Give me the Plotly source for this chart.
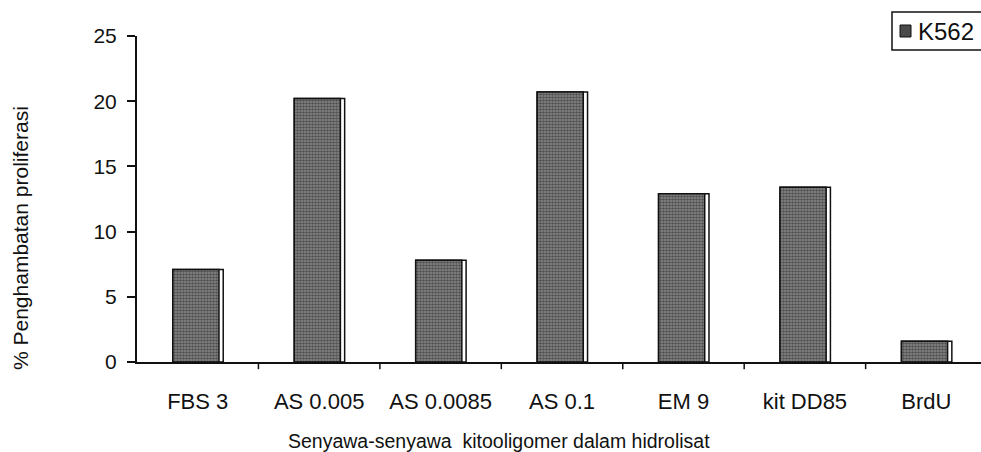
import plotly.graph_objects as go

categories = ["FBS 3", "AS 0.005", "AS 0.0085", "AS 0.1", "EM 9", "kit DD85", "BrdU"]
values = [7.1, 20.2, 7.8, 20.7, 12.9, 13.4, 1.6]
series_name = "K562"
y_ticks = [0, 5, 10, 15, 20, 25]

font = "Liberation Sans, Arial, sans-serif"

fig = go.Figure()
# outer outline (gives the white gap + right-hand black edge seen in the reference)
fig.add_trace(go.Bar(
    x=categories, y=values, width=0.415, offset=-0.205,
    marker=dict(color="white", line=dict(color="#111111", width=1.5)),
    showlegend=False, hoverinfo="skip",
))
# textured fill
fig.add_trace(go.Bar(
    x=categories, y=values, name=series_name, width=0.38, offset=-0.205,
    marker=dict(color="#6a6a6a", line=dict(color="#111111", width=1.5),
                pattern=dict(shape=".", fgcolor="#151515", bgcolor="#8c8c8c", size=3, solidity=0.6)),
    showlegend=False,
))

fig.update_layout(
    width=981, height=452,
    margin=dict(l=137, r=0, t=36, b=90),
    paper_bgcolor="white", plot_bgcolor="white",
    font=dict(family=font, size=20, color="#111111"),
    barmode="overlay",
    xaxis=dict(range=[-0.5, 6.45], showline=True, linecolor="#111111", linewidth=2,
               ticks="", tickfont=dict(size=22), ticklabelstandoff=19,
               showgrid=False, zeroline=False),
    yaxis=dict(range=[0, 25], tickvals=y_ticks, showline=True, linecolor="#111111", linewidth=2,
               ticks="outside", ticklen=8, tickcolor="#111111", tickwidth=1.5,
               tickfont=dict(size=21), ticklabelstandoff=6, showgrid=False, zeroline=False),
    showlegend=False,
)

# category-boundary ticks on x axis
for i in range(1, 7):
    fig.add_shape(type="line", xref="x", yref="paper", x0=i - 0.5, x1=i - 0.5, y0=0, y1=-0.022,
                  line=dict(color="#111111", width=1.5))
# x axis line extends slightly left of the y axis
fig.add_shape(type="line", xref="paper", yref="paper", x0=-10 / 844, x1=0, y0=0, y1=0,
              line=dict(color="#111111", width=2))

# legend box drawn manually
px = lambda v: (v - 137) / 844
py = lambda v: (362 - v) / 326
fig.add_shape(type="rect", xref="paper", yref="paper", x0=px(892), x1=px(990), y0=py(50), y1=py(12),
              line=dict(color="#111111", width=1.5), fillcolor="white")
fig.add_shape(type="rect", xref="paper", yref="paper", x0=px(900), x1=px(911), y0=py(37), y1=py(25),
              line=dict(color="#111111", width=1), fillcolor="#4a4a4a")
fig.add_annotation(text=series_name, xref="paper", yref="paper", x=px(916), y=py(31),
                   xanchor="left", yanchor="middle", showarrow=False, font=dict(size=24))

fig.add_annotation(text="Senyawa-senyawa  kitooligomer dalam hidrolisat", xref="paper", yref="paper",
                   x=px(499), y=py(441), xanchor="center", yanchor="middle",
                   showarrow=False, font=dict(size=19.5))
fig.add_annotation(text="% Penghambatan proliferasi", xref="paper", yref="paper",
                   x=px(20), y=py(238), xanchor="center", yanchor="middle",
                   textangle=-90, showarrow=False, font=dict(size=21))

fig.write_html("out.html")
